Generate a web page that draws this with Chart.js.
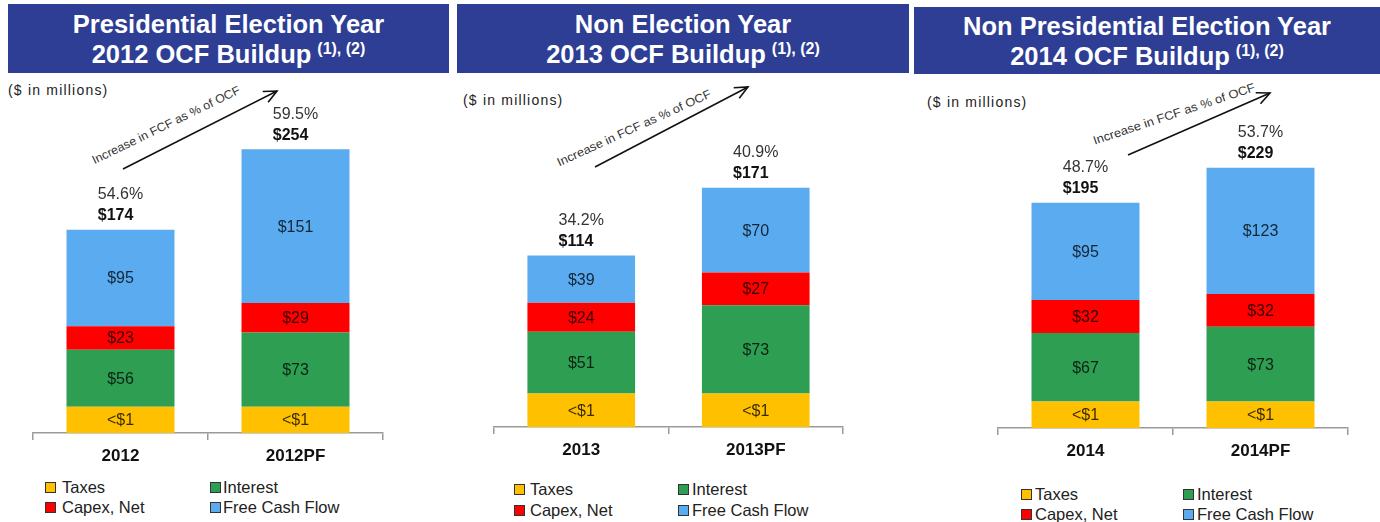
<!DOCTYPE html>
<html>
<head>
<meta charset="utf-8">
<script src="https://cdn.jsdelivr.net/npm/chart.js@4.4.1/dist/chart.umd.min.js"></script>
<style>
  body { margin:0; width:1380px; height:522px; background:#fff; position:relative; overflow:hidden;
         font-family:"Liberation Sans", Arial, sans-serif; }
  .hdr { position:absolute; background:#2d3e94; color:#fff; font-weight:bold; font-size:25.5px;
         line-height:30px; text-align:center; display:flex; flex-direction:column; justify-content:center;
         box-sizing:border-box; padding-top:5px; }
  .hdr sup { font-size:16px; vertical-align:0; position:relative; top:-9px; margin-left:6px; }
  .unit { position:absolute; font-size:14px; letter-spacing:1.2px; color:#222; line-height:16px; }
  canvas { position:absolute; }
  .leg { position:absolute; font-size:16.5px; color:#222; line-height:20px; white-space:nowrap; }
  .sw { position:absolute; width:9px; height:9px; border:1px solid #333; }
  svg { position:absolute; left:0; top:0; }
</style>
</head>
<body>
<svg id="notes" width="1380" height="522"></svg>
<script>
// ---- data ($ in millions) ----
const seriesNames  = ['Taxes', 'Interest', 'Capex, Net', 'Free Cash Flow'];
const seriesColors = ['#ffc000', '#2e9e52', '#ff0000', '#5aabf0'];
const taxesLabel = '<$1';

const cats2012     = ['2012', '2012PF'];
const taxes2012    = [0.4, 0.4];
const interest2012 = [56, 73];
const capex2012    = [23, 29];
const fcf2012      = [95, 151];
const totals2012   = [174, 254];
const fcfPct2012   = ['54.6%', '59.5%'];

const cats2013     = ['2013', '2013PF'];
const taxes2013    = [0.4, 0.4];
const interest2013 = [51, 73];
const capex2013    = [24, 27];
const fcf2013      = [39, 70];
const totals2013   = [114, 171];
const fcfPct2013   = ['34.2%', '40.9%'];

const cats2014     = ['2014', '2014PF'];
const taxes2014    = [0.4, 0.4];
const interest2014 = [67, 73];
const capex2014    = [32, 32];
const fcf2014      = [95, 123];
const totals2014   = [195, 229];
const fcfPct2014   = ['48.7%', '53.7%'];

const titles = [
  ['Presidential Election Year', '2012 OCF Buildup'],
  ['Non Election Year', '2013 OCF Buildup'],
  ['Non Presidential Election Year', '2014 OCF Buildup']
];
const footnoteMark = '(1), (2)';
const unitText = '($ in millions)';
const arrowText = 'Increase in FCF as % of OCF';

// ---- layout of the three panels ----
const panels = [
  { cats: cats2012, taxes: taxes2012, interest: interest2012, capex: capex2012, fcf: fcf2012,
    totals: totals2012, pct: fcfPct2012, title: titles[0],
    hdr: [8, 4, 441, 69], unit: [8, 82],
    canvas: [0, 80, 450, 400], pad: [33, 67], yMin: -25.5, yMax: 321.6,
    legend: { rows: [477, 497], col1: [45, 62], col2: [210, 223] },
    arrow: { from: [123, 169], to: [277, 91], text: [166, 125], angle: -26, len: 163 } },
  { cats: cats2013, taxes: taxes2013, interest: interest2013, capex: capex2013, fcf: fcf2013,
    totals: totals2013, pct: fcfPct2013, title: titles[1],
    hdr: [457, 4, 452, 69], unit: [463, 92],
    canvas: [455, 80, 455, 394], pad: [39, 67], yMin: -27.3, yMax: 259.5,
    legend: { rows: [479, 500], col1: [514, 530], col2: [678, 692] },
    arrow: { from: [595, 167], to: [748, 87], text: [634, 128], angle: -24.5, len: 168 } },
  { cats: cats2014, taxes: taxes2014, interest: interest2014, capex: capex2014, fcf: fcf2014,
    totals: totals2014, pct: fcfPct2014, title: titles[2],
    hdr: [914, 7, 466, 67], unit: [927, 94],
    canvas: [912, 80, 468, 395], pad: [86, 32], yMin: -25.4, yMax: 314.1,
    legend: { rows: [484, 504], col1: [1021, 1035], col2: [1183, 1197] },
    arrow: { from: [1128, 155], to: [1270, 93], text: [1174, 114], angle: -18.5, len: 170 } }
];

const FONT = '"Liberation Sans", Arial, sans-serif';

// value labels inside each segment, FCF % and total above each bar
const barLabels = {
  id: 'barLabels',
  afterDatasetsDraw(chart, args, opts) {
    const ctx = chart.ctx;
    ctx.save();
    ctx.textBaseline = 'middle';
    chart.data.datasets.forEach((ds, di) => {
      const meta = chart.getDatasetMeta(di);
      meta.data.forEach((el, i) => {
        ctx.font = '16px ' + FONT;
        ctx.textAlign = 'center';
        ctx.fillStyle = 'rgba(0,0,0,0.78)';
        ctx.fillText(ds.valueLabels[i], el.x, (el.y + el.base) / 2 + 1);
      });
    });
    const top = chart.getDatasetMeta(chart.data.datasets.length - 1);
    top.data.forEach((el, i) => {
      ctx.font = '16px ' + FONT;
      const pct = opts.pct[i];
      const left = el.x - ctx.measureText(pct).width / 2;
      ctx.textAlign = 'left';
      ctx.fillStyle = '#333';
      ctx.fillText(pct, left, el.y - 35);
      ctx.font = 'bold 16px ' + FONT;
      ctx.fillStyle = '#111';
      ctx.fillText('$' + opts.totals[i], left, el.y - 14);
    });
    ctx.restore();
  }
};

function segments(p) {
  const base1 = p.taxes;
  const base2 = p.taxes.map((t, i) => t + p.interest[i]);
  const base3 = base2.map((b, i) => b + p.capex[i]);
  return [
    { values: p.taxes.map(t => [p.yMin, t]), labels: p.taxes.map(() => taxesLabel) },
    { values: p.interest.map((v, i) => [base1[i], base1[i] + v]), labels: p.interest.map(v => '$' + v) },
    { values: p.capex.map((v, i) => [base2[i], base2[i] + v]), labels: p.capex.map(v => '$' + v) },
    { values: p.fcf.map((v, i) => [base3[i], base3[i] + v]), labels: p.fcf.map(v => '$' + v) }
  ];
}

const svg = document.getElementById('notes');
const NS = 'http://www.w3.org/2000/svg';
function svgEl(tag, attrs, text) {
  const e = document.createElementNS(NS, tag);
  for (const k in attrs) e.setAttribute(k, attrs[k]);
  if (text) e.textContent = text;
  svg.appendChild(e);
  return e;
}

panels.forEach((p) => {
  // header band
  const h = document.createElement('div');
  h.className = 'hdr';
  Object.assign(h.style, { left: p.hdr[0] + 'px', top: p.hdr[1] + 'px', width: p.hdr[2] + 'px', height: p.hdr[3] + 'px' });
  h.innerHTML = '<div>' + p.title[0] + '</div><div>' + p.title[1] + '<sup>' + footnoteMark + '</sup></div>';
  document.body.appendChild(h);

  // units note
  const u = document.createElement('div');
  u.className = 'unit';
  u.textContent = unitText;
  Object.assign(u.style, { left: p.unit[0] + 'px', top: p.unit[1] + 'px' });
  document.body.appendChild(u);

  // legend (2 x 2)
  const order = [[0, 0, 0], [1, 0, 1], [2, 1, 0], [3, 1, 1]];
  order.forEach(([si, row, col]) => {
    const cx = col === 0 ? p.legend.col1 : p.legend.col2;
    const y = p.legend.rows[row];
    const sw = document.createElement('div');
    sw.className = 'sw';
    Object.assign(sw.style, { left: cx[0] + 'px', top: (y + 5) + 'px', background: seriesColors[si] });
    document.body.appendChild(sw);
    const t = document.createElement('div');
    t.className = 'leg';
    t.textContent = seriesNames[si];
    Object.assign(t.style, { left: cx[1] + 'px', top: y + 'px' });
    document.body.appendChild(t);
  });

  // chart
  const c = document.createElement('canvas');
  c.width = p.canvas[2]; c.height = p.canvas[3];
  Object.assign(c.style, { left: p.canvas[0] + 'px', top: p.canvas[1] + 'px', width: p.canvas[2] + 'px', height: p.canvas[3] + 'px' });
  document.body.appendChild(c);

  const segs = segments(p);
  new Chart(c, {
    type: 'bar',
    data: {
      labels: p.cats,
      datasets: segs.map((s, i) => ({
        label: seriesNames[i],
        data: s.values,
        valueLabels: s.labels,
        backgroundColor: seriesColors[i],
        borderWidth: 0,
        grouped: false,
        barPercentage: 0.617,
        categoryPercentage: 1.0
      }))
    },
    options: {
      responsive: false,
      animation: false,
      devicePixelRatio: 1,
      layout: { padding: { left: p.pad[0], right: p.pad[1], top: 0, bottom: 0 } },
      plugins: {
        legend: { display: false },
        tooltip: { enabled: false },
        barLabels: { pct: p.pct, totals: p.totals }
      },
      scales: {
        x: {
          afterFit: (scale) => { scale.height = 47; },
          grid: { display: true, offset: true, drawOnChartArea: false, drawTicks: true, tickLength: 7, color: '#9a9a9a', lineWidth: 1.5 },
          border: { display: true, color: '#9a9a9a', width: 1.5 },
          ticks: { color: '#111', padding: 6, font: { family: FONT, size: 17, weight: 'bold' } }
        },
        y: { display: false, min: p.yMin, max: p.yMax }
      }
    },
    plugins: [barLabels]
  });

  // trend arrow with caption
  const a = p.arrow;
  svgEl('line', { x1: a.from[0], y1: a.from[1], x2: a.to[0], y2: a.to[1], stroke: '#111', 'stroke-width': 1.6 });
  const dx = a.to[0] - a.from[0], dy = a.to[1] - a.from[1];
  const L = Math.hypot(dx, dy), ux = dx / L, uy = dy / L;
  const hl = 13, hw = 6;
  const bx = a.to[0] - ux * hl, by = a.to[1] - uy * hl;
  svgEl('polyline', {
    points: (bx - uy * hw) + ',' + (by + ux * hw) + ' ' + a.to[0] + ',' + a.to[1] + ' ' + (bx + uy * hw) + ',' + (by - ux * hw),
    fill: 'none', stroke: '#111', 'stroke-width': 1.6
  });
  svgEl('text', {
    x: a.text[0], y: a.text[1], 'text-anchor': 'middle', 'dominant-baseline': 'central',
    'font-family': FONT, 'font-size': 12, fill: '#333',
    textLength: a.len, lengthAdjust: 'spacingAndGlyphs',
    transform: 'rotate(' + a.angle + ' ' + a.text[0] + ' ' + a.text[1] + ')'
  }, arrowText);
});
</script>
</body>
</html>
